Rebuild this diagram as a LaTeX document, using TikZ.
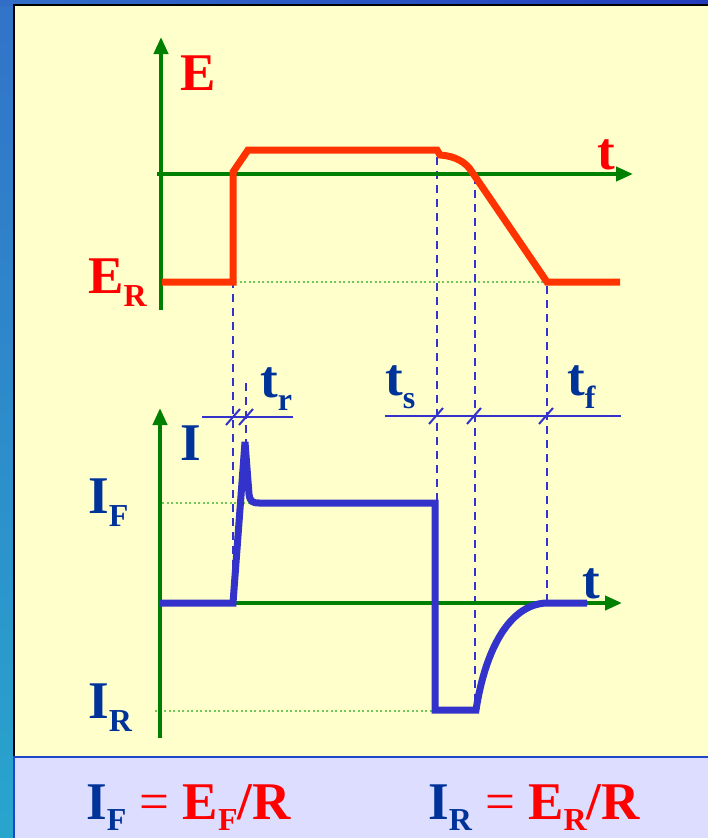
\documentclass[tikz,border=0pt]{standalone}
\usepackage{fontspec}
\setmainfont{Liberation Serif}
\usetikzlibrary{arrows.meta}
\definecolor{bgyellow}{RGB}{255,255,204}
\definecolor{lav}{RGB}{221,221,255}
\definecolor{axgreen}{RGB}{0,128,0}
\definecolor{dotgreen}{RGB}{110,200,90}
\definecolor{wred}{RGB}{255,51,0}
\definecolor{lred}{RGB}{255,0,0}
\definecolor{navy}{RGB}{0,51,153}
\definecolor{wblue}{RGB}{51,51,204}
\definecolor{stripA}{RGB}{50,115,200}
\definecolor{stripB}{RGB}{40,165,205}
\definecolor{topA}{RGB}{50,110,200}
\definecolor{topB}{RGB}{35,60,190}
\definecolor{panelblue}{RGB}{30,70,200}
\newcommand\sbx[1]{\raisebox{-13pt}{\fontsize{32}{32}\selectfont #1}}
\newcommand\sbf[1]{\raisebox{-11pt}{\fontsize{32}{32}\selectfont #1}}
\tikzset{
  axis/.style={draw=axgreen, line width=4pt, -{Triangle[length=17pt,width=14pt]}},
  redwave/.style={draw=wred, line width=7pt},
  bluewave/.style={draw=wblue, line width=7pt},
  guide/.style={draw=wblue, line width=2.2pt, dash pattern=on 8pt off 6pt},
  dotline/.style={draw=dotgreen, line width=1.5pt, dash pattern=on 2pt off 2.5pt},
  timeline/.style={draw=wblue, line width=2pt},
  tick/.style={draw=wblue, line width=2pt},
  lbl/.style={inner sep=0pt, anchor=base west, font=\fontsize{53}{60}\selectfont\bfseries}
}
\begin{document}
\begin{tikzpicture}[x=1pt,y=-1pt]
\useasboundingbox (0,0) rectangle (708,838);
% background
\shade[top color=stripA, bottom color=stripB] (0,0) rectangle (14,838);
\shade[left color=topA, right color=topB] (0,0) rectangle (708,5);
\fill[bgyellow] (14,5) rectangle (708,757);
\draw[black, line width=1.5pt] (14,838) -- (14,5) -- (708,5);
\fill[lav] (14,757) rectangle (708,838);
\draw[panelblue, line width=1.5pt] (14,838) -- (14,757) -- (708,757);

% guide lines
\draw[dotline] (235,282) -- (547,282);
\draw[dotline] (162,503) -- (248,503);
\draw[dotline] (155,711) -- (432,711);
\coordinate (g1a) at (233,238); \coordinate (g1b) at (233,604);
\coordinate (g2a) at (246,383); \coordinate (g2b) at (246,442);
\coordinate (g3a) at (437,157); \coordinate (g3b) at (437,502);
\coordinate (g4a) at (475,176); \coordinate (g4b) at (475,710);
\coordinate (g5a) at (547,286); \coordinate (g5b) at (547,601);
\draw[guide] (g1a) -- (g1b);
\draw[guide] (g2a) -- (g2b);
\draw[guide] (g3a) -- (g3b);
\draw[guide] (g4a) -- (g4b);
\draw[guide] (g5a) -- (g5b);

% axes
\coordinate (ev0) at (161,310); \coordinate (ev1) at (161,37);
\coordinate (eh0) at (157,174); \coordinate (eh1) at (633,174);
\coordinate (iv0) at (160,738); \coordinate (iv1) at (160,408);
\coordinate (ih0) at (160,603); \coordinate (ih1) at (622,603);
\draw[axis] (ev0) -- (ev1);
\draw[axis] (eh0) -- (eh1);
\draw[axis] (iv0) -- (iv1);
\draw[axis] (ih0) -- (ih1);

% waveforms
\draw[redwave] (162,282) -- (233,282) -- (233,172) -- (248,150) -- (437,150) -- (440,155)
  .. controls (455,156) and (466,162) .. (472,172) -- (547,282) -- (620,282);
\draw[bluewave] (160,603) -- (233,603) -- (245,442) -- (249,494)
  .. controls (250,502) and (253,503) .. (259,503) -- (435,503) -- (435,710) -- (476,710)
  .. controls (485,652) and (508,605) .. (546,603) -- (587,603);

% timing lines
\coordinate (tl1a) at (202,417); \coordinate (tl1b) at (293,417);
\coordinate (tl2a) at (385,416); \coordinate (tl2b) at (621,416);
\draw[timeline] (tl1a) -- (tl1b);
\draw[timeline] (tl2a) -- (tl2b);
\foreach \x/\y in {233/417, 246/417, 436/416, 474/416, 546/416}
  \draw[tick] (\x-7,\y+8) -- (\x+7,\y-8);

% labels
\node[lbl, text=lred] (lE) at (180,90) {E};
\node[lbl, text=lred] (lt1) at (597,169) {t};
\node[lbl, text=lred] (lER) at (88,293) {E\sbx{R}};
\node[lbl, text=navy] (lI) at (180,460) {I};
\node[lbl, text=navy] (lIF) at (88,513) {I\sbx{F}};
\node[lbl, text=navy] (lIR) at (88,718) {I\sbx{R}};
\node[lbl, text=navy] (lt2) at (582,598) {t};
\node[lbl, text=navy] (ltr) at (260,397) {t\sbx{r}};
\node[lbl, text=navy] (lts) at (385,395) {t\sbx{s}};
\node[lbl, text=navy] (ltf) at (567,395) {t\sbx{f}};
\node[lbl] (f1) at (86,819) {\textcolor{navy}{I\sbf{F}} \textcolor{lred}{\mdseries=} \textcolor{lred}{E\sbf{F}/R}};
\node[lbl] (f2) at (428,819) {\textcolor{navy}{I\sbf{R}} \textcolor{lred}{\mdseries=} \textcolor{lred}{E\sbf{R}/R}};
\end{tikzpicture}
\end{document}
